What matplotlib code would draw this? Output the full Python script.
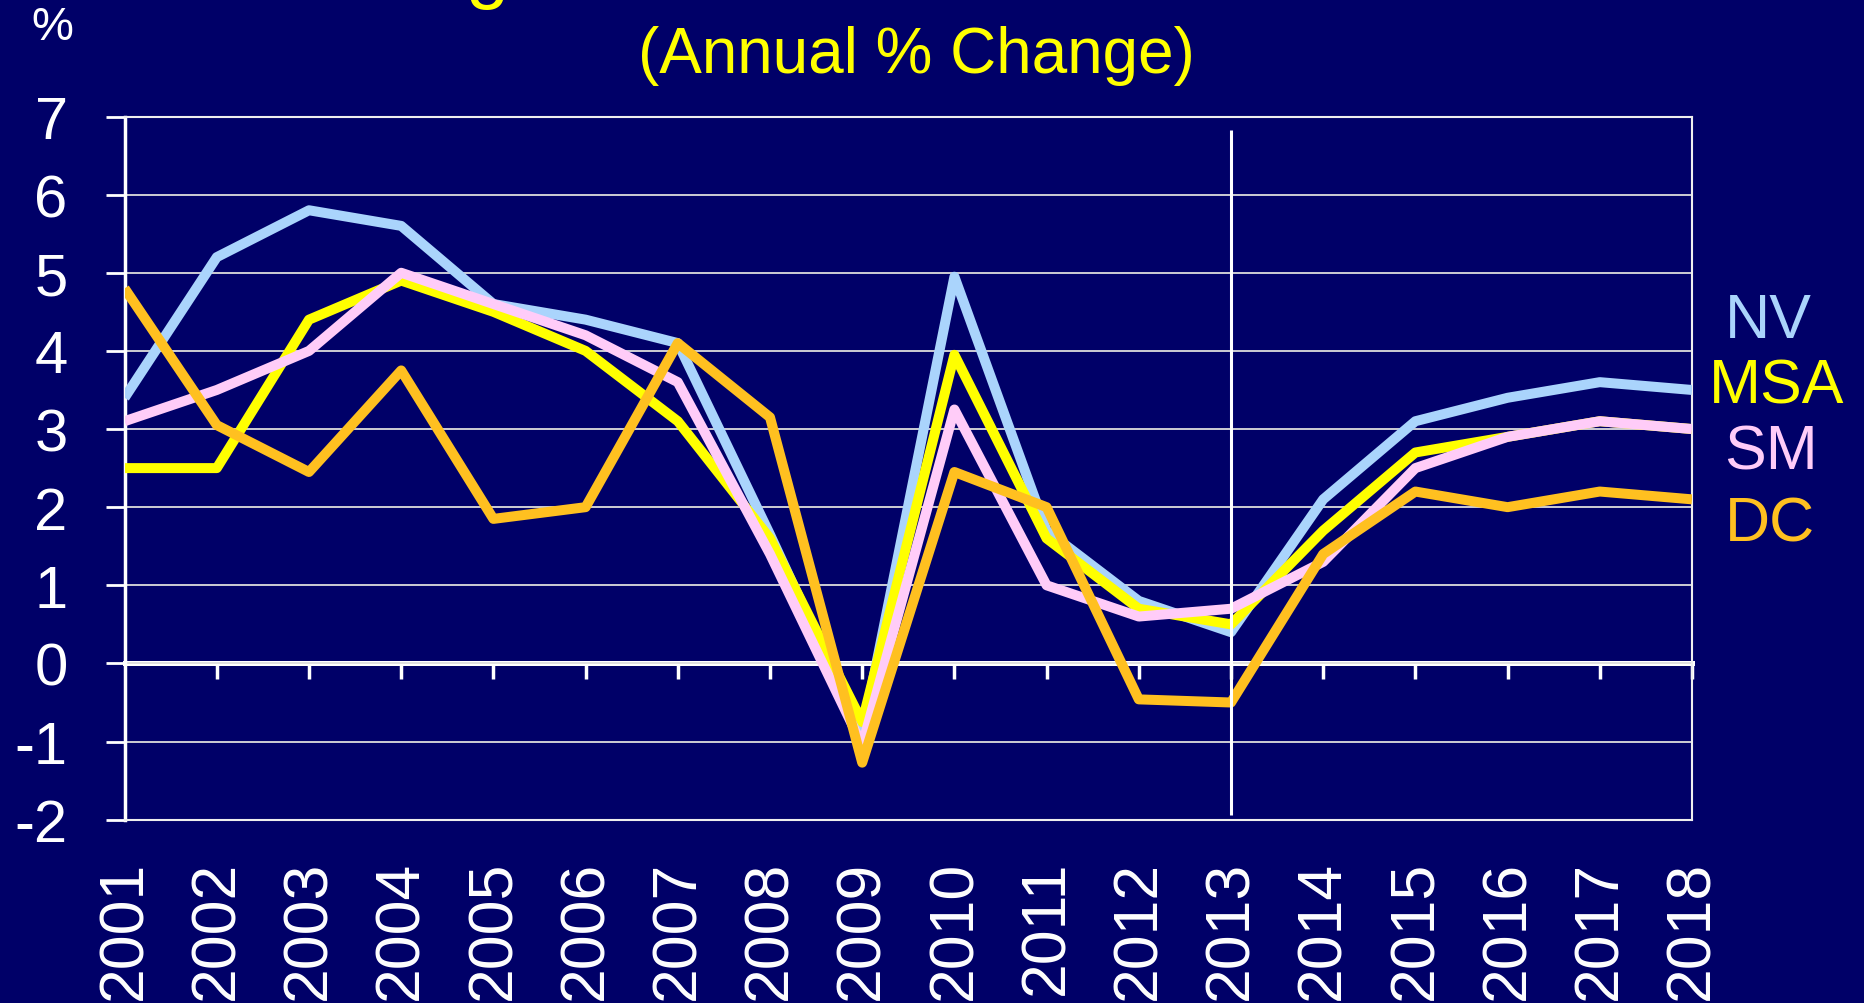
import matplotlib
matplotlib.use("Agg")
import matplotlib.pyplot as plt

plt.rcParams['font.family'] = ['Liberation Sans', 'DejaVu Sans']
plt.rcParams['axes.unicode_minus'] = False

years = list(range(2001, 2019))
nv  = [3.4, 5.2, 5.8, 5.6, 4.6, 4.4, 4.1, 1.65, -0.9, 4.95, 1.7, 0.8, 0.4, 2.1, 3.1, 3.4, 3.6, 3.5]
msa = [2.5, 2.5, 4.4, 4.9, 4.5, 4.0, 3.1, 1.6, -0.75, 3.95, 1.6, 0.7, 0.5, 1.7, 2.7, 2.9, 3.1, 3.0]
sm  = [3.1, 3.5, 4.0, 5.0, 4.6, 4.2, 3.6, 1.4, -1.05, 3.25, 1.0, 0.6, 0.7, 1.3, 2.5, 2.9, 3.1, 3.0]
dc  = [4.8, 3.05, 2.45, 3.75, 1.85, 2.0, 4.1, 3.15, -1.27, 2.45, 2.0, -0.46, -0.5, 1.4, 2.2, 2.0, 2.2, 2.1]
series_names = ['NV', 'MSA', 'SM', 'DC']
series_colors = ['#AAD4FC', '#FFFF00', '#FFCCF8', '#FFC020']
yticks = list(range(-2, 8))
forecast_year = 2013
subtitle = '(Annual % Change)'

BG = '#000068'
W, H = 1864, 1004
fig = plt.figure(figsize=(W / 100, H / 100), dpi=100, facecolor=BG)
ax = fig.add_axes([124.6 / W, 1 - 820.7 / H, (1692 - 124.6) / W, (820.7 - 117.5) / H])
ax.set_facecolor(BG)

for vals, col in zip([nv, msa, sm, dc], series_colors):
    ax.plot(years, vals, color=col, lw=7.2, solid_joinstyle='round', solid_capstyle='butt', zorder=3)

ax.set_xlim(years[0], years[-1])
ax.set_ylim(yticks[0], yticks[-1])

# grid
ax.set_yticks(yticks)
ax.yaxis.grid(True, color='#DDDDDD', lw=1.3)
ax.set_axisbelow(True)

# spines
for s in ['top', 'right', 'bottom']:
    ax.spines[s].set_color('#EEEEEE')
    ax.spines[s].set_linewidth(1.5)
ax.spines['left'].set_color('white')
ax.spines['left'].set_linewidth(2.5)

ax.tick_params(axis='y', colors='white', direction='out', length=14, width=2,
               pad=27, labelsize=43)
ax.set_xticks(years)
ax.set_xticklabels([str(y) for y in years], rotation=90)
ax.tick_params(axis='x', colors='white', length=0, pad=29, labelsize=45)
for lbl in ax.get_yticklabels() + ax.get_xticklabels():
    lbl.set_color('white')

# zero axis line with hanging ticks
sec = ax.secondary_xaxis(-yticks[0] / (yticks[-1] - yticks[0]))
sec.set_xticks(years[1:])
sec.tick_params(axis='x', colors='white', direction='out', length=11.5, width=2.5,
                labelbottom=False)
sec.spines['bottom'].set_color('white')
sec.spines['bottom'].set_linewidth(3.6)

# forecast divider
ax.vlines(forecast_year, -1.94, 6.83, color='white', lw=2.2, zorder=4)

# texts
fig.text(916 / W, 1 - 73 / H, subtitle, color='#FFFF00', fontsize=46,
         ha='center', va='baseline')
fig.text(487 / W, 1 + 6 / H, 'g', color='#FFFF00', fontsize=56,
         ha='center', va='baseline')
fig.text(52 / W, 1 - 28 / H, '%', color='white', fontsize=34, ha='center', va='center')

label_pos = [(1768, 322), (1777, 387), (1771, 453), (1770, 525)]
for name, col, (px, py) in zip(series_names, series_colors, label_pos):
    fig.text(px / W, 1 - py / H, name, color=col, fontsize=45, ha='center', va='center')

fig.savefig('out.png', dpi=100, facecolor=BG)
